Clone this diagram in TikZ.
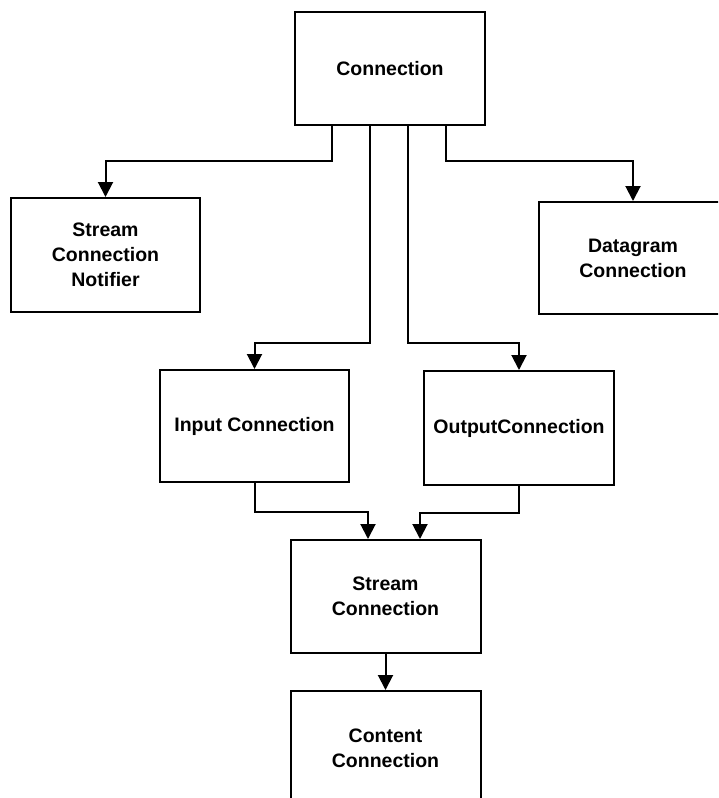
\documentclass[tikz,border=0pt]{standalone}
\usepackage{fontspec}
\setmainfont{Liberation Sans}
\usetikzlibrary{arrows.meta}
\begin{document}
\begin{tikzpicture}[x=1pt,y=-1pt,
  box/.style={draw,line width=2pt,rectangle,align=center,inner sep=0pt,
    font=\bfseries\fontsize{19.5}{25}\selectfont},
  arr/.style={line width=2pt,-{Triangle[length=15pt,width=15pt]}}]
\clip (0,0) rectangle (718,798);
\fill[white] (0,0) rectangle (718,798);

% class boxes
\node[box,minimum width=190,minimum height=113] (conn)   at (390,68.5)   {Connection};
\node[box,minimum width=189,minimum height=114] (notif)  at (105.5,255)  {Stream\\Connection\\Notifier};
\node[box,minimum width=188,minimum height=112] (dgram)  at (633,258)    {Datagram\\Connection};
\node[box,minimum width=189,minimum height=112] (input)  at (254.5,426)  {Input Connection};
\node[box,minimum width=190,minimum height=114] (output) at (519,428)    {OutputConnection};
\node[box,minimum width=190,minimum height=113] (stream) at (385.5,596.5){Stream\\Connection};
\node[box,minimum width=190,minimum height=114] (cont)   at (385.5,748)  {Content\\Connection};

% inheritance connectors
\draw[arr] ([xshift=-58pt]conn.south) -- ++(0,35) -| (notif.north);
\draw[arr] ([xshift=56pt]conn.south)  -- ++(0,35) -| (dgram.north);
\draw[arr] ([xshift=-20pt]conn.south) -- ++(0,217) -| (input.north);
\draw[arr] ([xshift=18pt]conn.south)  -- ++(0,217) -| (output.north);
\draw[arr] (input.south)  -- ++(0,29) -| ([xshift=-17.5pt]stream.north);
\draw[arr] (output.south) -- ++(0,27) -| ([xshift=34.5pt]stream.north);
\draw[arr] (stream.south) -- (cont.north);
\end{tikzpicture}
\end{document}
